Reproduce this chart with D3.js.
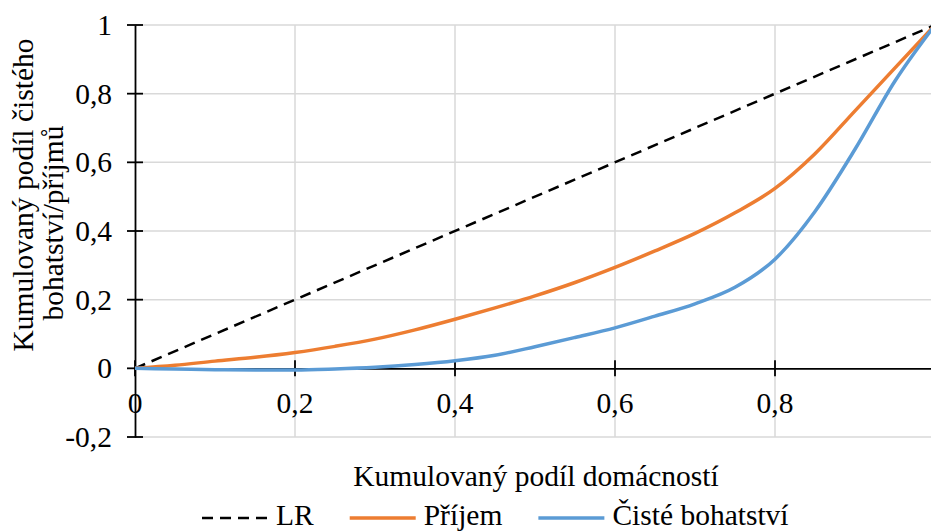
<!DOCTYPE html>
<html><head><meta charset="utf-8">
<script src="https://cdn.jsdelivr.net/npm/d3@7"></script>
<style>
html,body{margin:0;padding:0;background:#fff;}
svg text{font-family:"Liberation Serif","Times New Roman",serif;fill:#000;}
</style></head>
<body><svg id="c" width="931" height="531"></svg>
<script>
const xValues = [0,0.05,0.1,0.15,0.2,0.25,0.3,0.35,0.4,0.45,0.5,0.55,0.6,0.65,0.7,0.75,0.8,0.85,0.9,0.95,1];
const prijem = [0,0.009,0.021,0.032,0.046,0.064,0.085,0.112,0.143,0.176,0.211,0.25,0.294,0.342,0.393,0.453,0.524,0.625,0.75,0.875,1];
const bohatstvi = [0,-0.002,-0.004,-0.005,-0.005,-0.002,0.003,0.011,0.022,0.038,0.063,0.09,0.118,0.152,0.188,0.236,0.318,0.457,0.638,0.837,1];
const lrValues = [0,1];
const xTicks = [0,0.2,0.4,0.6,0.8];
const yTicks = [-0.2,0,0.2,0.4,0.6,0.8,1];
const xTickLabels = ["0","0,2","0,4","0,6","0,8"];
const yTickLabels = ["-0,2","0","0,2","0,4","0,6","0,8","1"];
const seriesNames = ["LR","Příjem","Čisté bohatství"];
const colors = ["#000000","#ED7D31","#5B9BD5"];

const svg = d3.select("#c");
const fs = 29.5;
const x = d3.scaleLinear().domain([0,1]).range([135,935]);
const y = d3.scaleLinear().domain([-0.2,1]).range([437,25]);

// gridlines
svg.append("g").selectAll("line").data(yTicks.filter(v=>v!==0)).join("line")
  .attr("x1",x(0)).attr("x2",931).attr("y1",d=>y(d)).attr("y2",d=>y(d))
  .attr("stroke","#D9D9D9").attr("stroke-width",1.5);
svg.append("g").selectAll("line").data(xTicks.filter(v=>v!==0).concat([1])).join("line")
  .attr("x1",d=>x(d)).attr("x2",d=>x(d)).attr("y1",y(1)).attr("y2",y(-0.2))
  .attr("stroke","#D9D9D9").attr("stroke-width",1.5);

// axes
const yAxis = d3.axisLeft(y).tickValues(yTicks).tickSize(0).tickFormat("");
const gy = svg.append("g").attr("transform",`translate(${x(0)},0)`).call(yAxis);
gy.select(".domain").attr("stroke","#000").attr("stroke-width",1.8);
svg.append("g").selectAll("line").data(yTicks).join("line")
  .attr("x1",x(0)-8).attr("x2",x(0)+8).attr("y1",d=>y(d)).attr("y2",d=>y(d))
  .attr("stroke","#000").attr("stroke-width",1.8);
svg.append("g").selectAll("text").data(yTicks).join("text")
  .attr("x",112).attr("y",d=>y(d)).attr("dy","0.34em").attr("text-anchor","end")
  .attr("font-size",fs).text((d,i)=>yTickLabels[i]);

const xAxis = d3.axisBottom(x).tickValues(xTicks).tickSize(0).tickFormat("");
const gx = svg.append("g").attr("transform",`translate(0,${y(0)})`).call(xAxis);
gx.select(".domain").attr("stroke","#000").attr("stroke-width",1.8);
svg.append("g").selectAll("line").data(xTicks).join("line")
  .attr("x1",d=>x(d)).attr("x2",d=>x(d)).attr("y1",y(0)-8).attr("y2",y(0)+8)
  .attr("stroke","#000").attr("stroke-width",1.8);
svg.append("g").selectAll("text").data(xTicks).join("text")
  .attr("x",d=>x(d)).attr("y",413).attr("text-anchor","middle")
  .attr("font-size",fs).text((d,i)=>xTickLabels[i]);

// lines
const line = d3.line().x(d=>x(d[0])).y(d=>y(d[1])).curve(d3.curveMonotoneX);
svg.append("path").datum(lrValues.map(v=>[v,v])).attr("d",line)
  .attr("fill","none").attr("stroke",colors[0]).attr("stroke-width",2.5).attr("stroke-dasharray","11,7");
svg.append("path").datum(xValues.map((v,i)=>[v,prijem[i]])).attr("d",line)
  .attr("fill","none").attr("stroke",colors[1]).attr("stroke-width",3.5).attr("stroke-linejoin","round");
svg.append("path").datum(xValues.map((v,i)=>[v,bohatstvi[i]])).attr("d",line)
  .attr("fill","none").attr("stroke",colors[2]).attr("stroke-width",3.5).attr("stroke-linejoin","round");

// axis titles
svg.append("text").attr("x",536).attr("y",486).attr("text-anchor","middle").attr("font-size",fs)
  .text("Kumulovaný podíl domácností");
svg.append("text").attr("transform","translate(33,195) rotate(-90)").attr("text-anchor","middle").attr("font-size",fs)
  .text("Kumulovaný podíl čistého");
svg.append("text").attr("transform","translate(63,223) rotate(-90)").attr("text-anchor","middle").attr("font-size",fs)
  .text("bohatství/příjmů");

// legend
let lx = 202;
const ly = 518;
seriesNames.forEach((n,i)=>{
  const l = svg.append("line").attr("x1",lx).attr("x2",lx+66).attr("y1",ly).attr("y2",ly)
    .attr("stroke",colors[i]).attr("stroke-width",i===0?2.5:3.5);
  if(i===0) l.attr("stroke-dasharray","11,7");
  const t = svg.append("text").attr("x",lx+74).attr("y",525).attr("font-size",fs).text(n);
  lx = lx + 74 + t.node().getComputedTextLength() + 36;
});
</script></body></html>
